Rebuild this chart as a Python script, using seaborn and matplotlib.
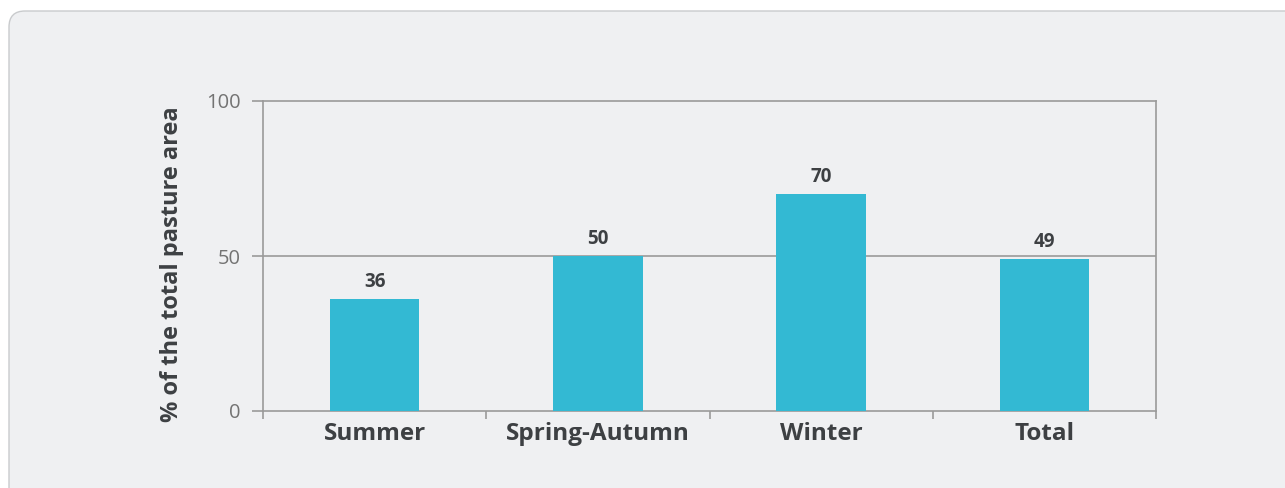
import matplotlib.pyplot as plt
import seaborn as sns
from matplotlib.patches import FancyBboxPatch
from matplotlib.transforms import IdentityTransform

categories = ["Summer", "Spring-Autumn", "Winter", "Total"]
values = [36, 50, 70, 49]
y_ticks = [0, 50, 100]

BAR_COLOR = "#33b9d3"
TEXT_DARK = "#3d4043"
TEXT_GREY = "#737373"
LINE_GREY = "#9a9a9a"
PANEL_BG = "#eff0f2"

sns.set_theme(style="white")
plt.rcParams["font.family"] = ["Open Sans", "DejaVu Sans"]

W, H = 1285, 488
fig = plt.figure(figsize=(W / 100, H / 100), dpi=100)
fig.patch.set_facecolor("white")

# rounded panel behind the chart, drawn in pixel units
panel = FancyBboxPatch(
    (9, -40), W + 40, H - 11 + 40,
    boxstyle="round,pad=0,rounding_size=16",
    transform=IdentityTransform(), facecolor=PANEL_BG, edgecolor="#c9cbcd",
    linewidth=1.0, zorder=-5,
)
fig.patches.append(panel)

ax = fig.add_axes([263 / W, 1 - 411 / H, (1156 - 263) / W, (411 - 101) / H])
ax.set_facecolor("none")

sns.barplot(x=categories, y=values, color=BAR_COLOR, width=0.4,
            saturation=1, linewidth=0, ax=ax, zorder=3)

ax.set_ylim(0, 100)
ax.set_xlim(-0.5, len(categories) - 0.5)
ax.set_yticks(y_ticks)
ax.set_yticklabels([str(t) for t in y_ticks])
ax.axhline(50, color=LINE_GREY, linewidth=1.2, zorder=2)

for s in ["left", "right", "top", "bottom"]:
    ax.spines[s].set_visible(True)
    ax.spines[s].set_color(LINE_GREY)
    ax.spines[s].set_linewidth(1.2)

ax.tick_params(axis="y", length=8, width=1.2, color=LINE_GREY, labelsize=14.5,
               labelcolor=TEXT_GREY, pad=8, left=True)
ax.set_xticks(range(len(categories)))
ax.set_xticklabels(categories, fontsize=17.5, fontweight="bold", color=TEXT_DARK)
ax.tick_params(axis="x", length=0, pad=8)
# category boundary ticks
ax.set_xticks([i - 0.5 for i in range(len(categories) + 1)], minor=True)
ax.tick_params(axis="x", which="minor", length=6, width=1.2, color=LINE_GREY,
               bottom=True)

for i, v in enumerate(values):
    ax.annotate(str(v), (i, v), xytext=(0, 5), textcoords="offset points",
                ha="center", va="bottom", fontsize=13.5, fontweight="bold",
                color=TEXT_DARK)

ax.set_ylabel("% of the total pasture area", fontsize=17, fontweight="bold",
              color=TEXT_DARK, va="center")
ax.yaxis.set_label_coords(-0.102, 0.474)
ax.set_xlabel("")

fig.savefig("out.png", dpi=100)
